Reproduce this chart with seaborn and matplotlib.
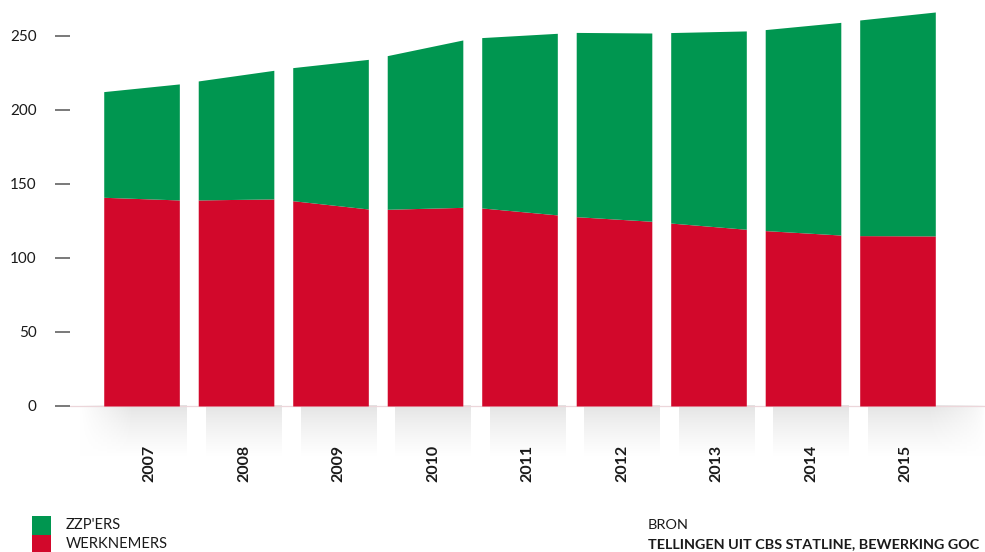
import numpy as np
import pandas as pd
import matplotlib
matplotlib.use("Agg")
import matplotlib.pyplot as plt
from matplotlib.patches import Rectangle
import seaborn as sns

# Werkgelegenheid per jaar, waarde aan begin en eind van elk jaar (x 1.000)
years = ["2007", "2008", "2009", "2010", "2011", "2012", "2013", "2014", "2015"]
werknemers_start = [141.0, 139.2, 138.7, 132.9, 133.8, 127.9, 123.6, 118.5, 115.1]
werknemers_end = [139.2, 139.9, 133.1, 134.2, 129.1, 124.8, 119.4, 115.5, 114.9]
totaal_start = [212.4, 219.6, 228.6, 236.7, 248.9, 252.4, 252.3, 254.3, 260.8]
totaal_end = [217.6, 226.8, 234.2, 247.3, 251.8, 252.0, 253.4, 259.2, 266.2]
y_ticks = [0, 50, 100, 150, 200, 250]
legend_labels = ["ZZP'ERS", "WERKNEMERS"]

GREEN = "#009650"
RED = "#D2082B"

df = pd.DataFrame({
    "jaar": years,
    "wn_start": werknemers_start,
    "wn_end": werknemers_end,
    "tot_start": totaal_start,
    "tot_end": totaal_end,
})

sns.set_theme(style="white")
plt.rcParams["font.family"] = ["Lato", "DejaVu Sans"]

W, H = 985, 552
fig = plt.figure(figsize=(W / 100, H / 100), dpi=100)
ax = fig.add_axes([70 / W, (H - 460) / H, (W - 70) / W, 460 / H])

half = 0.40
x_left, x_right = -0.757, 8.926
y_bottom, y_top = -36.5, 274.3

# soft shadow strips under the columns
shade_h = 200
fade = np.linspace(0, 1, shade_h) ** 0.7
grey = 0.885 + (1 - 0.885) * fade
for i in range(len(df)):
    off = 0.085
    x0 = i - half + off
    x1 = i + half + off
    if i == 0:
        x0 = x_left + 0.1
    if i == len(df) - 1:
        x1 = x_right
    nx = 60
    img = np.ones((shade_h, nx, 4))
    img[:, :, 0] = grey[:, None]
    img[:, :, 1] = grey[:, None]
    img[:, :, 2] = grey[:, None]
    alpha = np.ones((shade_h, nx))
    if i == 0:
        alpha *= np.clip(np.linspace(0, 2.0, nx), 0, 1)[None, :]
    if i == len(df) - 1:
        alpha *= np.clip(np.linspace(2.0, 0, nx), 0, 1)[None, :] ** 0.6
    img[:, :, 3] = alpha
    ax.imshow(img, extent=(x0, x1, -34, 0), aspect="auto", origin="upper",
              zorder=0, interpolation="bilinear")

ax.axhline(0, color="#ecd6da", lw=0.9, zorder=1)

for i, row in df.iterrows():
    xs = [i - half, i + half]
    wn = [row.wn_start, row.wn_end]
    tot = [row.tot_start, row.tot_end]
    ax.fill_between(xs, [0, 0], wn, color=RED, lw=0, zorder=2)
    ax.fill_between(xs, wn, tot, color=GREEN, lw=0, zorder=2)
    ax.text(i + 0.085, -26.4, row.jaar, rotation=90, ha="center", va="top",
            fontsize=11.5, fontweight="bold", color="#1a1a1a")

ax.set_xlim(x_left, x_right)
ax.set_ylim(y_bottom, y_top)
ax.set_xticks([])
ax.set_yticks(y_ticks)
ax.set_yticklabels([str(v) for v in y_ticks], fontsize=11, color="#1a1a1a")
ax.tick_params(axis="y", left=True, length=11, width=1.1, color="#555555",
               direction="out", pad=13)
sns.despine(ax=ax, left=True, bottom=True, top=True, right=True)
ax.grid(False)
ax.set_facecolor("none")

# legend
fig.add_artist(Rectangle((32 / W, (H - 535) / H), 19 / W, 19 / H,
                         transform=fig.transFigure, color=GREEN, lw=0))
fig.add_artist(Rectangle((32 / W, 0), 19 / W, 17 / H,
                         transform=fig.transFigure, color=RED, lw=0))
fig.text(66 / W, (H - 525) / H, legend_labels[0], fontsize=10.6, va="center",
         ha="left", color="#1a1a1a")
fig.text(66 / W, (H - 544) / H, legend_labels[1], fontsize=10.6, va="center",
         ha="left", color="#1a1a1a")

fig.text(648 / W, (H - 525) / H, "BRON", fontsize=10.4, va="center", ha="left",
         color="#1a1a1a")
fig.text(648 / W, (H - 544) / H, "TELLINGEN UIT CBS STATLINE, BEWERKING GOC",
         fontsize=10.4, fontweight="bold", va="center", ha="left", color="#1a1a1a")

fig.savefig("out.png", dpi=100, facecolor="white")
